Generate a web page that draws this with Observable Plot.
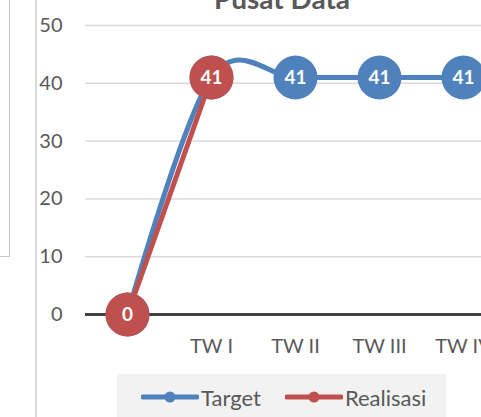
<!DOCTYPE html>
<html>
<head>
<meta charset="utf-8">
<script src="https://cdn.jsdelivr.net/npm/d3@7"></script>
<script src="https://cdn.jsdelivr.net/npm/@observablehq/plot@0.6"></script>
<style>
  html, body { margin: 0; padding: 0; background: #fff; width: 481px; height: 417px; overflow: hidden; }
  #wrap { position: relative; width: 481px; height: 417px; overflow: hidden; font-family: Lato, "Open Sans", sans-serif; }
  #chart { position: absolute; left: 0; top: 0; width: 530px; height: 417px; }
  #chart svg { max-width: none !important; width: 530px; height: 417px; }
  .vline { position: absolute; background: #d9d9d9; }
  #title { position: absolute; left: 182px; width: 200px; text-align: center; top: -16px; font-size: 28px; line-height: 28px; font-weight: bold; color: #595959; white-space: nowrap; }
  #legend { position: absolute; left: 117px; top: 374px; width: 329px; height: 46px; background: #f2f2f2; display: flex; align-items: center; font-size: 22px; color: #595959; }
  .item { display: flex; align-items: center; }
</style>
</head>
<body>
<div id="wrap">
  <div class="vline" style="left:9px;top:0;width:1px;height:257px;background:#c8c8c8"></div>
  <div class="vline" style="left:0;top:256px;width:10px;height:1px;background:#c8c8c8"></div>
  <div class="vline" style="left:35px;top:0;width:2px;height:417px;"></div>
  <div id="chart"></div>
  <div id="title">Pusat Data</div>
  <div id="legend"></div>
</div>
<script>
const categories = ["", "TW I", "TW II", "TW III", "TW IV"];
const targetValues = [0, 41, 41, 41, 41];
const realisasiValues = [0, 41];
const yTicks = [0, 10, 20, 30, 40, 50];
const seriesNames = ["Target", "Realisasi"];
const seriesColors = ["#4f81bd", "#c0504d"];

const target = targetValues.map((v, i) => ({cat: categories[i], value: v}));
const realisasi = realisasiValues.map((v, i) => ({cat: categories[i], value: v}));

const chart = Plot.plot({
  width: 530,
  height: 417,
  marginLeft: 85,
  marginRight: 25,
  marginTop: 25,
  marginBottom: 103,
  style: {fontFamily: "Lato, 'Open Sans', sans-serif", fontSize: "20px", color: "#595959", background: "transparent", overflow: "visible", maxWidth: "none"},
  x: {type: "point", domain: categories, padding: 0.5},
  y: {domain: [0, 50]},
  marks: [
    Plot.ruleY(yTicks.filter(d => d > 0), {stroke: "#d9d9d9", strokeWidth: 1.5}),
    Plot.axisY({ticks: yTicks, tickSize: 0, tickPadding: 23, fontSize: 20, label: null}),
    Plot.axisX({tickSize: 0, tickPadding: 24, fontSize: 20, label: null}),
    Plot.ruleY([0], {stroke: "#404040", strokeWidth: 3}),
    Plot.line(target, {x: "cat", y: "value", stroke: seriesColors[0], strokeWidth: 5, curve: "cardinal"}),
    Plot.line(realisasi, {x: "cat", y: "value", stroke: seriesColors[1], strokeWidth: 5}),
    Plot.dot(target, {x: "cat", y: "value", r: 22, fill: seriesColors[0]}),
    Plot.text(target, {x: "cat", y: "value", text: d => String(d.value), fill: "white", fontWeight: "bold", fontSize: 19}),
    Plot.dot(realisasi, {x: "cat", y: "value", r: 22, fill: seriesColors[1]}),
    Plot.text(realisasi, {x: "cat", y: "value", text: d => String(d.value), fill: "white", fontWeight: "bold", fontSize: 19})
  ]
});
document.getElementById("chart").appendChild(chart);

const legend = document.getElementById("legend");
seriesNames.forEach((name, i) => {
  const item = document.createElement("div");
  item.className = "item";
  item.style.marginLeft = "24px";
  item.innerHTML = `<svg width="58" height="14" style="margin-right:2px"><line x1="2" x2="56" y1="7" y2="7" stroke="${seriesColors[i]}" stroke-width="5" stroke-linecap="round"/><circle cx="29" cy="7" r="5.5" fill="${seriesColors[i]}"/></svg><span>${name}</span>`;
  legend.appendChild(item);
});
</script>
</body>
</html>
